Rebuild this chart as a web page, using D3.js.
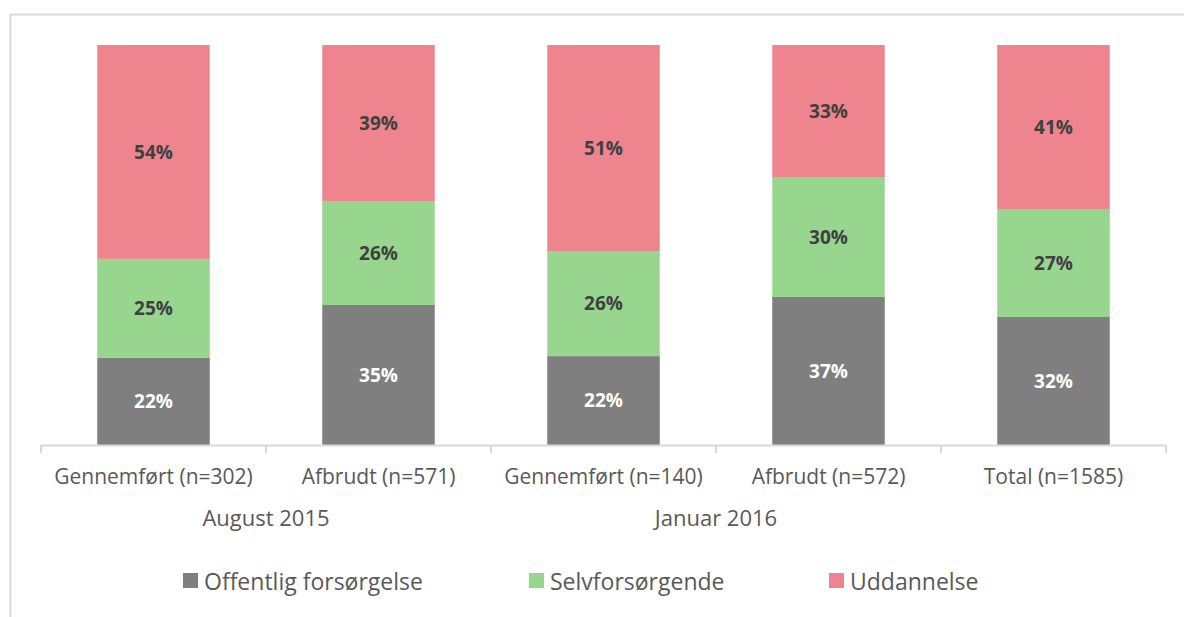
<!DOCTYPE html>
<html>
<head>
<meta charset="utf-8">
<script src="https://cdn.jsdelivr.net/npm/d3@7"></script>
<style>
  html, body { margin: 0; padding: 0; background: #fff; }
  svg { display: block; font-family: "Open Sans", "Noto Sans", sans-serif; }
</style>
</head>
<body>
<svg id="chart" width="1184" height="617"></svg>
<script>
// data
const categories = ["Gennemført (n=302)", "Afbrudt (n=571)", "Gennemført (n=140)", "Afbrudt (n=572)", "Total (n=1585)"];
const groups = [
  { name: "August 2015", from: 0, to: 1 },
  { name: "Januar 2016", from: 2, to: 3 }
];
const seriesNames = ["Offentlig forsørgelse", "Selvforsørgende", "Uddannelse"];
const offentlig = [22, 35, 22, 37, 32];
const selvforsorgende = [25, 26, 26, 30, 27];
const uddannelse = [54, 39, 51, 33, 41];

const colors = ["#7f7f7f", "#98d58f", "#ee858e"];
const labelColors = ["#ffffff", "#404040", "#404040"];

const width = 1184, height = 617;
const svg = d3.select("#chart");

// chart frame (light grey, runs off the right/bottom edge)
svg.append("rect")
  .attr("x", 10.5).attr("y", 14.5)
  .attr("width", width + 20).attr("height", height + 20)
  .attr("fill", "none")
  .attr("stroke", "#d9d9d9")
  .attr("stroke-width", 2);

const rows = categories.map((c, i) => ({
  cat: c,
  [seriesNames[0]]: offentlig[i],
  [seriesNames[1]]: selvforsorgende[i],
  [seriesNames[2]]: uddannelse[i]
}));

const stacked = d3.stack()
  .keys(seriesNames)
  .offset(d3.stackOffsetExpand)(rows);

const x = d3.scaleBand()
  .domain(categories)
  .range([41, 1166])
  .paddingInner(0.5)
  .paddingOuter(0.25);

const y = d3.scaleLinear().domain([0, 1]).range([445, 45]);

const layer = svg.append("g").selectAll("g")
  .data(stacked)
  .join("g")
  .attr("fill", (d, i) => colors[i]);

layer.selectAll("rect")
  .data(d => d)
  .join("rect")
  .attr("x", d => x(d.data.cat))
  .attr("y", d => y(d[1]))
  .attr("width", x.bandwidth())
  .attr("height", d => y(d[0]) - y(d[1]));

// value labels
stacked.forEach((s, si) => {
  svg.append("g").selectAll("text")
    .data(s)
    .join("text")
    .attr("x", d => x(d.data.cat) + x.bandwidth() / 2)
    .attr("y", d => (y(d[0]) + y(d[1])) / 2)
    .attr("dy", "0.36em")
    .attr("text-anchor", "middle")
    .attr("fill", labelColors[si])
    .style("font-size", "19px")
    .style("font-weight", "bold")
    .text(d => d.data[s.key] + "%");
});

// category axis
const step = x.step();
const axisG = svg.append("g");
axisG.append("line")
  .attr("x1", 41).attr("x2", 1166)
  .attr("y1", 445.5).attr("y2", 445.5)
  .attr("stroke", "#d9d9d9").attr("stroke-width", 2);

const tickPos = d3.range(categories.length + 1).map(i => 41 + i * step);
axisG.selectAll("line.tick")
  .data(tickPos)
  .join("line")
  .attr("class", "tick")
  .attr("x1", d => d).attr("x2", d => d)
  .attr("y1", 445).attr("y2", 453)
  .attr("stroke", "#d9d9d9").attr("stroke-width", 2);

axisG.selectAll("text.cat")
  .data(categories)
  .join("text")
  .attr("class", "cat")
  .attr("x", d => x(d) + x.bandwidth() / 2)
  .attr("y", 484)
  .attr("text-anchor", "middle")
  .attr("fill", "#595959")
  .style("font-size", "21px")
  .text(d => d);

axisG.selectAll("text.grp")
  .data(groups)
  .join("text")
  .attr("class", "grp")
  .attr("x", g => (x(categories[g.from]) + x(categories[g.to]) + x.bandwidth()) / 2)
  .attr("y", 526)
  .attr("text-anchor", "middle")
  .attr("fill", "#595959")
  .style("font-size", "22px")
  .text(g => g.name);

// legend
const legendX = [183, 529, 829];
const legend = svg.append("g").selectAll("g")
  .data(seriesNames)
  .join("g")
  .attr("transform", (d, i) => `translate(${legendX[i]},573)`);

legend.append("rect")
  .attr("width", 15).attr("height", 15)
  .attr("fill", (d, i) => colors[i]);

legend.append("text")
  .attr("x", 21).attr("y", 17)
  .attr("fill", "#595959")
  .style("font-size", "23px")
  .text(d => d);
</script>
</body>
</html>
